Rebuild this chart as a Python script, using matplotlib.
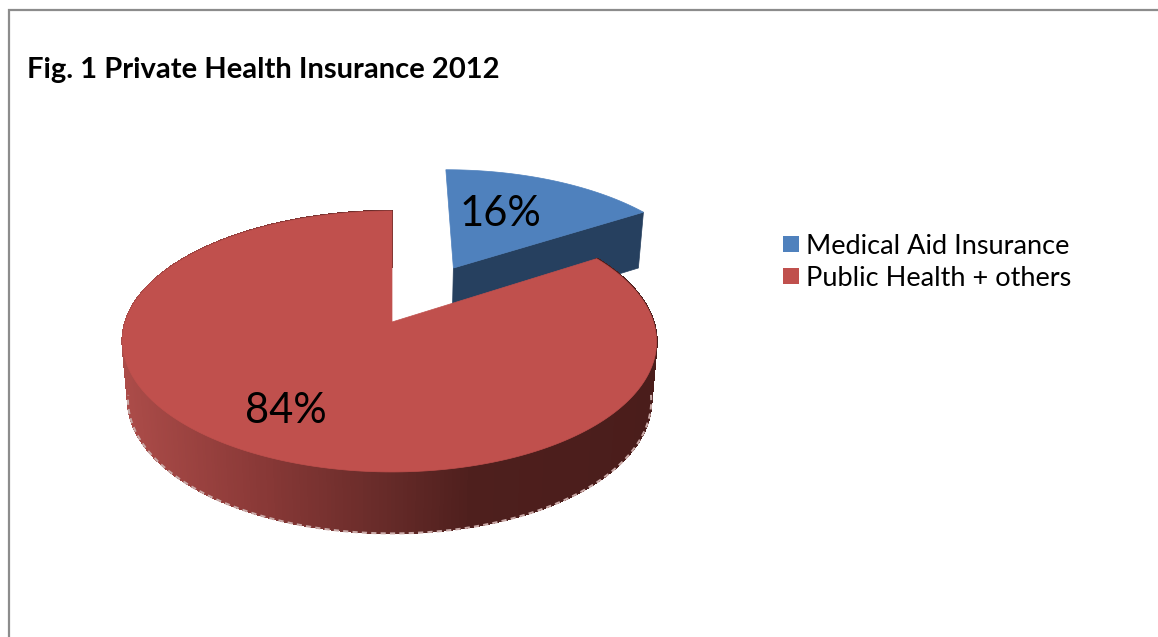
import numpy as np
from matplotlib import pyplot as plt
from matplotlib.colors import to_rgb
from matplotlib.collections import PolyCollection
from matplotlib.patches import Polygon, Rectangle

title = "Fig. 1 Private Health Insurance 2012"
labels = ["Medical Aid Insurance", "Public Health + others"]
shares = [16, 84]
top_colors = ["#4f81bd", "#c0504d"]
blue_wall = "#26405f"
frame_color = "#8c8c8c"

# pie centre and perspective of the tilted disc, in pixels
cx, cy = 392, 322
rx, ry = 264, 127.6
persp = 0.149
# bottom disc of the cylinder
depth = 58
bottom_sx, bottom_sy = 0.98, 1.02
explode = 0.515
# the red disc sits a little left of its own vertex
red_lean = 2.5

# shading of the red side wall from left to right
wall_x = [120, 250, 390, 470, 660]
wall_colors = ["#ac4c49", "#8c3a38", "#652a28", "#4e1f1d", "#4a1d1b"]


def project(u, v, bottom=False, lean=0.0):
    w = 1 + persp * v
    x = rx * u / w - lean * u ** 2
    y = ry * v / w
    if bottom:
        return cx + bottom_sx * x, cy + depth - bottom_sy * y
    return cx + x, cy - y


def wall_color(x):
    rgb = np.array([to_rgb(c) for c in wall_colors])
    return [np.interp(x, wall_x, rgb[:, i]) for i in range(3)]


def main():
    fig = plt.figure(figsize=(11.58, 6.37), dpi=100)
    ax = fig.add_axes([0, 0, 1, 1])
    ax.set_xlim(0, 1158)
    ax.set_ylim(637, 0)
    ax.axis("off")
    plt.rcParams["font.family"] = ["Lato", "DejaVu Sans"]

    # frame, open on the right and at the bottom
    ax.plot([8.5, 8.5, 1158], [637, 10, 10], color=frame_color, lw=1.6,
            solid_joinstyle="miter")

    # angles run clockwise from 12 o'clock
    blue_end = 2 * np.pi * shares[0] / sum(shares)
    mid = blue_end / 2
    off_u, off_v = explode * np.sin(mid), explode * np.cos(mid)

    # blue slice: cut wall first, then top
    t = np.linspace(0, blue_end, 80)
    arc_u = np.sin(t) + off_u
    arc_v = np.cos(t) + off_v
    ax_top = project(off_u, off_v)
    tip_top = project(arc_u[-1], arc_v[-1])
    tip_bot = project(arc_u[-1], arc_v[-1], bottom=True)
    ax_bot = project(off_u, off_v, bottom=True)
    ax.add_patch(Polygon([ax_top, tip_top, tip_bot, ax_bot], closed=True,
                         fc=blue_wall, ec=blue_wall, lw=0.5, zorder=2))
    bx, by = project(arc_u, arc_v)
    blue_pts = np.column_stack([np.r_[ax_top[0], bx], np.r_[ax_top[1], by]])
    ax.add_patch(Polygon(blue_pts, closed=True, fc=top_colors[0],
                         ec=top_colors[0], lw=0.5, zorder=3))

    # red slice: wall strips with the shading, then top
    t = np.linspace(blue_end, 2 * np.pi, 400)
    u, v = np.sin(t), np.cos(t)
    tx, ty = project(u, v, lean=red_lean)
    lx, ly = project(u, v, bottom=True, lean=red_lean)
    quads = []
    colors = []
    for i in range(len(t) - 1):
        quads.append([(tx[i], ty[i]), (tx[i + 1], ty[i + 1]),
                      (lx[i + 1], ly[i + 1]), (lx[i], ly[i])])
        colors.append(wall_color((tx[i] + tx[i + 1]) / 2))
    ax.add_collection(PolyCollection(quads, facecolors=colors, edgecolors=colors,
                                     linewidths=1.0, antialiased=False, zorder=4))
    # pale ragged fringe along the lower rim
    front = v < -0.1
    ax.plot(lx[front], ly[front] + 0.5, color="#c9a9a7", lw=1.5,
            ls=(0, (2.5, 2)), zorder=4.5)
    red_pts = np.column_stack([np.r_[cx, tx], np.r_[cy, ty]])
    ax.add_patch(Polygon(red_pts, closed=True, fc=top_colors[1], ec=top_colors[1],
                         lw=0.5, zorder=5))

    ax.text(500, 214, f"{shares[0]}%", fontsize=30, ha="center", va="center",
            color="black", zorder=6)
    ax.text(286, 411, f"{shares[1]}%", fontsize=30, ha="center", va="center",
            color="black", zorder=6)

    ax.text(27, 70, title, fontsize=21, fontweight="bold", ha="left",
            va="center", color="black")

    # legend
    for name, color, y, ty_ in zip(labels, top_colors, [244, 276], [246, 278]):
        ax.add_patch(Rectangle((783, y - 8), 16, 16, fc=color, ec="none"))
        ax.text(806, ty_, name, fontsize=19.5, ha="left", va="center", color="black")

    fig.savefig("out.png", dpi=100)


if __name__ == "__main__":
    main()
